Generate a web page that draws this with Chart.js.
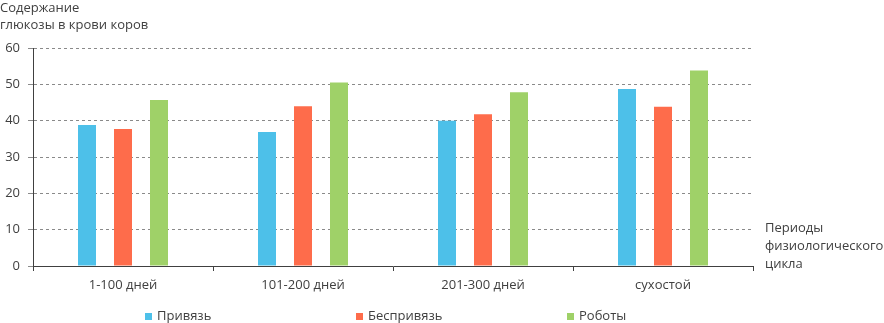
<!DOCTYPE html>
<html>
<head>
<meta charset="utf-8">
<script src="https://cdn.jsdelivr.net/npm/chart.js@4.4.1/dist/chart.umd.min.js"></script>
<style>
  html, body { margin: 0; padding: 0; background: #fff; }
  #wrap { position: relative; width: 884px; height: 323px; overflow: hidden;
          font-family: "Open Sans", "Noto Sans", sans-serif; color: #404040; font-size: 13px; }
  canvas { position: absolute; left: 0; top: 0; }
  .ytitle { position: absolute; left: 0; top: -1px; line-height: 17px; white-space: nowrap; }
  .xtitle { position: absolute; left: 765px; top: 218px; line-height: 18px; white-space: nowrap; }
  .leg { position: absolute; top: 307px; line-height: 16px; white-space: nowrap; }
  .leg i { display: inline-block; width: 7px; height: 7px; margin-right: 5px; vertical-align: 0px; }
</style>
</head>
<body>
<div id="wrap">
  <canvas id="c" width="884" height="323"></canvas>
  <div class="ytitle" id="ytitle"></div>
  <div class="xtitle" id="xtitle"></div>
  <div id="legend"></div>
</div>
<script>
const categories = ["1-100 дней", "101-200 дней", "201-300 дней", "сухостой"];
const seriesNames = ["Привязь", "Беспривязь", "Роботы"];
const privyaz = [38.8, 36.9, 40.0, 48.7];
const besprivyaz = [37.7, 44.0, 41.8, 43.8];
const roboty = [45.7, 50.5, 47.8, 53.8];
const yTicks = [0, 10, 20, 30, 40, 50, 60];
const yTitleLines = ["Содержание", "глюкозы в крови коров"];
const xTitleLines = ["Периоды", "физиологического", "цикла"];
const colors = ["#4DC0E9", "#FE6C4B", "#9FD168"];

document.getElementById("ytitle").innerHTML = yTitleLines.join("<br>");
document.getElementById("xtitle").innerHTML = xTitleLines.join("<br>");

const seriesValues = [privyaz, besprivyaz, roboty];
const datasets = seriesNames.map((n, i) => ({
  label: n,
  data: seriesValues[i],
  backgroundColor: colors[i],
  borderWidth: 0,
  categoryPercentage: 0.6,
  barPercentage: 0.5
}));

const leg = document.getElementById("legend");
datasets.forEach((d, i) => {
  const el = document.createElement("div");
  el.className = "leg";
  el.style.left = (145 + i * 211) + "px";
  el.innerHTML = '<i style="background:' + d.backgroundColor + '"></i>' + d.label;
  leg.appendChild(el);
});

const font = { family: '"Open Sans", "Noto Sans", sans-serif', size: 13 };

new Chart(document.getElementById("c"), {
  type: "bar",
  data: { labels: categories, datasets },
  options: {
    responsive: false,
    animation: false,
    events: [],
    layout: { padding: { top: 48, right: 131, left: 0, bottom: 0 } },
    plugins: { legend: { display: false }, tooltip: { enabled: false } },
    scales: {
      x: {
        grid: { offset: true, drawOnChartArea: false, drawTicks: true, tickLength: 5, color: "#404040" },
        border: { display: true, color: "#404040", width: 1 },
        ticks: { color: "#404040", font, padding: 6, maxRotation: 0 },
        afterFit: s => { s.height = 57; }
      },
      y: {
        min: 0, max: 60,
        afterBuildTicks: s => { s.ticks = yTicks.map(v => ({ value: v })); },
        grid: { color: "#8a8a8a", tickLength: 5, tickColor: "#8a8a8a", borderDash: [3, 3] },
        border: { display: true, color: "#404040", width: 1, dash: [3,3] },
        ticks: { color: "#404040", font, padding: 8 },
        afterFit: s => { s.width = 33; }
      }
    }
  },
  plugins: [{
    id: "solidYAxis",
    afterDraw(chart) {
      const { ctx, chartArea } = chart;
      ctx.save();
      ctx.strokeStyle = "#404040";
      ctx.lineWidth = 1;
      ctx.beginPath();
      const x = Math.round(chartArea.left) + 0.5;
      ctx.moveTo(x, chartArea.top);
      ctx.lineTo(x, chartArea.bottom);
      ctx.stroke();
      ctx.restore();
    }
  }]
});
</script>
</body>
</html>
